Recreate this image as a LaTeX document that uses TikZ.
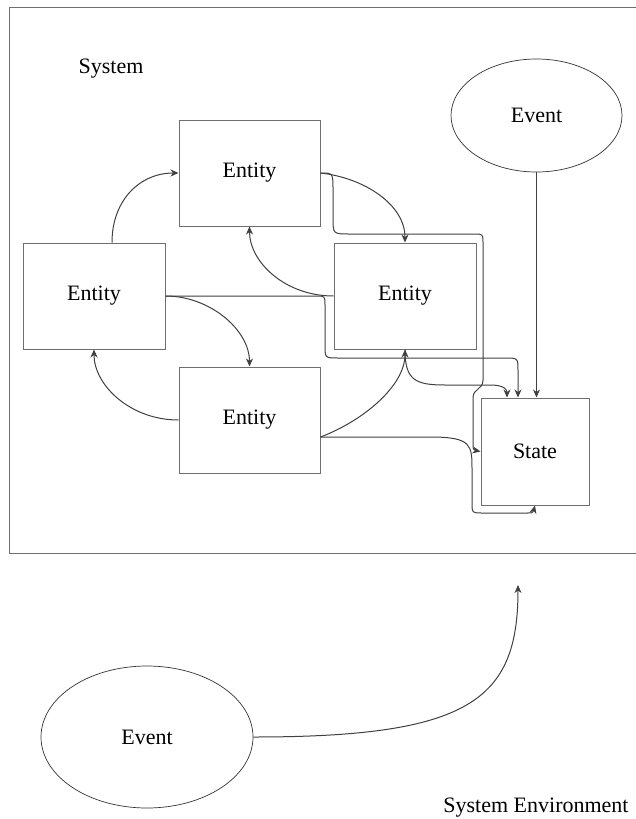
\documentclass[tikz,border=0pt]{standalone}
\usepackage{fontspec}
\setmainfont{Liberation Serif}
\usetikzlibrary{arrows.meta,shapes.geometric}
\definecolor{boxc}{HTML}{6E6E6E}
\definecolor{linec}{HTML}{404040}
\definecolor{ellc}{HTML}{333333}
\tikzset{
  entbox/.style={draw=boxc,line width=1pt,rectangle,inner sep=0pt,font=\fontsize{22}{26}\selectfont},
  evell/.style={draw=ellc,line width=0.7pt,ellipse,inner sep=0pt,font=\fontsize{22}{26}\selectfont},
  lbl/.style={inner sep=0pt,font=\fontsize{22}{26}\selectfont},
  conn/.style={draw=linec,line width=1pt,-{Stealth[length=8pt,width=7pt,inset=2.5pt]}}
}
\begin{document}
\begin{tikzpicture}[x=1pt,y=-1pt]
\useasboundingbox (0,0) rectangle (635,819);
\fill[white] (0,0) rectangle (635,819);
% system frame
\draw[draw=boxc,line width=1pt] (9,7.5) rectangle (640,553);
\node[lbl] (sys) at (111,69) {System};
\node[lbl] (env) at (536,808) {System Environment};
% nodes
\node[entbox,minimum width=141pt,minimum height=106pt] (E1) at (249.5,173) {Entity};
\node[entbox,minimum width=142pt,minimum height=106pt] (E2) at (94,296) {Entity};
\node[entbox,minimum width=142pt,minimum height=106pt] (E3) at (405,296) {Entity};
\node[entbox,minimum width=141pt,minimum height=106pt] (E4) at (249.5,420) {Entity};
\node[entbox,minimum width=108pt,minimum height=107pt] (S) at (535,451.5) {State};
\node[evell,minimum width=171pt,minimum height=113pt] (EvT) at (536.5,115.5) {Event};
\node[evell,minimum width=212pt,minimum height=142pt] (EvB) at (147,737) {Event};
\coordinate (e4o) at ([yshift=-17pt]E4.east);
\coordinate (tip) at (518,585);
% connectors
\draw[conn] ([xshift=18pt]E2.north) .. controls (112,200) and (140,173) .. (E1.west);
\draw[conn] (E3.west) .. controls (285,296) and (249.5,262) .. (E1.south);
\draw[conn] (E2.east) .. controls (210,296) and (249.5,330) .. (E4.north);
\draw[conn] (E4.west) .. controls (130,420) and (94,385) .. (E2.south);
\draw[conn] (e4o) .. controls (365,420) and (405,385) .. (E3.south);
\draw[conn] (E1.east) .. controls (365,178) and (405,205) .. (E3.north);
\draw[conn] (E1.east) .. controls (333,173) .. (333,190) -- (333,218) .. controls (333,234) .. (350,234) -- (474,234) .. controls (483,234) .. (483,243) -- (483,380) .. controls (483,390) and (473,388) .. (473,398) -- (473,440) .. controls (473,450) .. (S.west);
\draw[conn] (E2.east) -- (316,296) .. controls (325,296) .. (325,305) -- (325,345) .. controls (325,358) .. (338,358) -- (505,358) .. controls (518,358) .. (518,371) -- ([xshift=-17pt]S.north);
\draw[conn] (E3.south) .. controls (405,380) and (415,385) .. (445,385) -- (490,385) .. controls (505,385) and (507,390) .. ([xshift=-28pt]S.north);
\draw[conn] (EvT.south) -- (EvT.south |- S.north);
\draw[conn] (e4o) -- (430,437) .. controls (472,437) and (472,445) .. (472,470) -- (472,503) .. controls (472,513) .. (482,513) -- (525,513) .. controls (533,513) .. (S.south);
\draw[conn] (EvB.east) .. controls (470,737) and (518,700) .. (tip);
\end{tikzpicture}
\end{document}
